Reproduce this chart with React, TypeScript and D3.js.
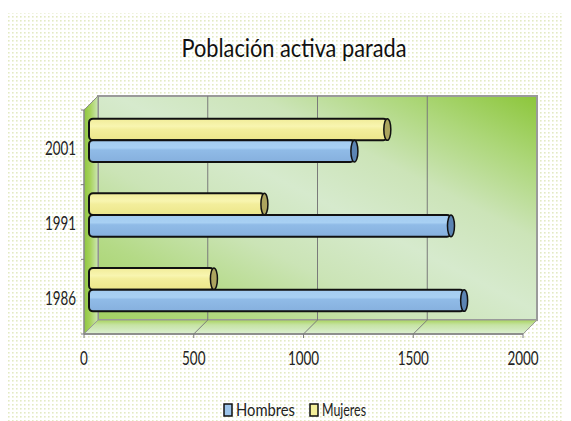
import React from "react";
import * as d3 from "d3";

const title = "Población activa parada";
const categories = ["2001", "1991", "1986"];
const hombres = [1200, 1640, 1700];
const mujeres = [1350, 790, 560];
const xTicks = [0, 500, 1000, 1500, 2000];
const seriesNames = ["Mujeres", "Hombres"];
const legendNames = ["Hombres", "Mujeres"];

const W = 571;
const H = 421;
const FONT = "Lato, 'Open Sans', sans-serif";

export default function App() {
  const fx0 = 84, fx1 = 523, fyTop = 110, fyBot = 334;
  const dx = 14, dy = -14;
  const xFront = d3.scaleLinear().domain([0, 2000]).range([fx0, fx1]);
  const xBack = d3.scaleLinear().domain([0, 2000]).range([fx0 + dx, fx1 + dx]);
  const xBar = d3.scaleLinear().domain([0, 2000]).range([fx0 + dx / 2, fx1 + dx / 2]);
  const yFront = d3.scaleBand<string>().domain(categories).range([fyTop, fyBot]);
  const yBar = d3.scaleBand<string>().domain(categories).range([fyTop + dy / 2, fyBot + dy / 2]);
  const sub = d3.scaleBand<string>().domain(seriesNames).range([0, yBar.bandwidth()]).paddingOuter(0.72).paddingInner(0);

  const bx0 = fx0 + dx, bx1 = fx1 + dx, byTop = fyTop + dy, byBot = fyBot + dy;

  // wall gradient axis perpendicular to the top-left / bottom-right diagonal
  const cx = (bx0 + bx1) / 2, cy = (byTop + byBot) / 2;
  const vx = byBot - byTop, vy = -(bx1 - bx0);
  const vl = Math.hypot(vx, vy);
  const ux = vx / vl, uy = vy / vl;
  const half = (bx1 - cx) * ux + (byTop - cy) * uy;
  const gx1 = cx - ux * half, gy1 = cy - uy * half, gx2 = cx + ux * half, gy2 = cy + uy * half;

  const barData = categories.flatMap((c, i) => [
    { c, s: "Mujeres", v: mujeres[i] },
    { c, s: "Hombres", v: hombres[i] },
  ]);

  const fills: Record<string, string> = { Hombres: "url(#gBlue)", Mujeres: "url(#gYellow)" };
  const caps: Record<string, string> = { Hombres: "#5b84b3", Mujeres: "#aca45e" };
  const legendFill: Record<string, string> = { Hombres: "#9cc4ea", Mujeres: "#f4ef9a" };

  return (
    <div style={{ position: "absolute", left: 0, top: 0 }}>
      <svg width={W} height={H} viewBox={`0 0 ${W} ${H}`} style={{ display: "block" }}>
        <defs>
          <pattern id="dots" width="4" height="4" patternUnits="userSpaceOnUse">
            <rect x="0" y="0" width="1.6" height="1.6" fill="#e3eac3" />
          </pattern>
          <linearGradient id="gWall" gradientUnits="userSpaceOnUse" x1={gx1} y1={gy1} x2={gx2} y2={gy2}>
            <stop offset="0" stopColor="#a2d062" />
            <stop offset="0.18" stopColor="#b4da86" />
            <stop offset="0.35" stopColor="#cbe4b6" />
            <stop offset="0.52" stopColor="#d6eacd" />
            <stop offset="0.68" stopColor="#cce4b8" />
            <stop offset="0.84" stopColor="#add77a" />
            <stop offset="1" stopColor="#8cc63a" />
          </linearGradient>
          <linearGradient id="gLeft" x1="0" y1="0" x2="1" y2="0">
            <stop offset="0" stopColor="#8ec63f" />
            <stop offset="0.45" stopColor="#a8d35e" />
            <stop offset="1" stopColor="#cde6b4" />
          </linearGradient>
          <linearGradient id="gFloor" x1="0" y1="0" x2="0" y2="1">
            <stop offset="0" stopColor="#a9d45e" />
            <stop offset="0.35" stopColor="#c6e3a4" />
            <stop offset="1" stopColor="#dcefd3" />
          </linearGradient>
          <linearGradient id="gBlue" x1="0" y1="0" x2="0" y2="1">
            <stop offset="0" stopColor="#a4ccf0" />
            <stop offset="0.35" stopColor="#a8d0f3" />
            <stop offset="0.45" stopColor="#90bbe7" />
            <stop offset="1" stopColor="#86b0de" />
          </linearGradient>
          <linearGradient id="gYellow" x1="0" y1="0" x2="0" y2="1">
            <stop offset="0" stopColor="#f1ec98" />
            <stop offset="0.35" stopColor="#f8f5b0" />
            <stop offset="0.5" stopColor="#f3ee9c" />
            <stop offset="1" stopColor="#ece68a" />
          </linearGradient>
        </defs>
        <rect x={0} y={0} width={W} height={H} fill="#ffffff" />
        <rect x={8} y={13} width={W - 16} height={H - 13} fill="url(#dots)" />

        <text x={294} y={57} textAnchor="middle" fontFamily={FONT} fontSize={25} fill="#111"
          textLength={225} lengthAdjust="spacingAndGlyphs">{title}</text>

        {/* back wall */}
        <rect x={bx0} y={byTop} width={bx1 - bx0} height={byBot - byTop} fill="url(#gWall)" stroke="#9a9a9a" strokeWidth={2} />
        {/* left wall */}
        <polygon points={`${fx0},${fyTop} ${bx0},${byTop} ${bx0},${byBot} ${fx0},${fyBot}`} fill="url(#gLeft)" stroke="#8a8a8a" strokeWidth={1} />
        {/* floor */}
        <polygon points={`${fx0},${fyBot} ${bx0},${byBot} ${bx1},${byBot} ${fx1},${fyBot}`} fill="url(#gFloor)" stroke="#9a9a9a" strokeWidth={1} />

        {/* gridlines */}
        {xTicks.slice(1, -1).map((t) => (
          <g key={t}>
            <line x1={xBack(t)} x2={xBack(t)} y1={byTop} y2={byBot} stroke="#7a7a7a" strokeWidth={1} />
            <line x1={xBack(t)} x2={xFront(t)} y1={byBot} y2={fyBot} stroke="#7a7a7a" strokeWidth={1} />
          </g>
        ))}

        {/* axes */}
        <line x1={fx0} x2={fx1} y1={fyBot} y2={fyBot} stroke="#7d7d7d" strokeWidth={1.5} />
        <line x1={fx0} x2={fx0} y1={fyTop} y2={fyBot} stroke="#8a8a8a" strokeWidth={1.2} />
        {xTicks.map((t) => (
          <g key={t}>
            <line x1={xFront(t)} x2={xFront(t)} y1={fyBot} y2={fyBot + 4} stroke="#7d7d7d" strokeWidth={1} />
            <text x={xFront(t)} y={365} textAnchor="middle" fontFamily={FONT} fontSize={20} fill="#222"
              textLength={String(t).length * 7.8} lengthAdjust="spacingAndGlyphs">{t}</text>
          </g>
        ))}
        {[...categories.map((c) => yFront(c) as number), fyBot].map((y, i) => (
          <line key={i} x1={fx0 - 3} x2={fx0} y1={y} y2={y} stroke="#7d7d7d" strokeWidth={1} />
        ))}
        {categories.map((c) => (
          <text key={c} x={fx0 - 8} y={(yFront(c) as number) + yFront.bandwidth() / 2 + 8} textAnchor="end"
            fontFamily={FONT} fontSize={20} fill="#222" textLength={31} lengthAdjust="spacingAndGlyphs">{c}</text>
        ))}

        {/* bars */}
        {barData.map((d, i) => {
          const y = (yBar(d.c) as number) + (sub(d.s) as number);
          const h = sub.bandwidth();
          const x0 = xBar(0) - 2;
          const x1 = xBar(d.v);
          return (
            <g key={i}>
              <rect x={x0} y={y} width={x1 - x0} height={h} rx={4} ry={4} fill={fills[d.s]} stroke="#111" strokeWidth={2} />
              <ellipse cx={x1} cy={y + h / 2} rx={3.5} ry={h / 2} fill={caps[d.s]} stroke="#111" strokeWidth={1.5} />
            </g>
          );
        })}

        {/* legend */}
        {legendNames.map((n, i) => {
          const lx = i === 0 ? 224 : 310;
          const tw = i === 0 ? 59 : 44;
          return (
            <g key={n}>
              <rect x={lx} y={404} width={8} height={12} fill={legendFill[n]} stroke="#111" strokeWidth={1.5} />
              <text x={lx + 12} y={416} fontFamily={FONT} fontSize={17} fill="#222" textLength={tw} lengthAdjust="spacingAndGlyphs">{n}</text>
            </g>
          );
        })}
      </svg>
    </div>
  );
}
